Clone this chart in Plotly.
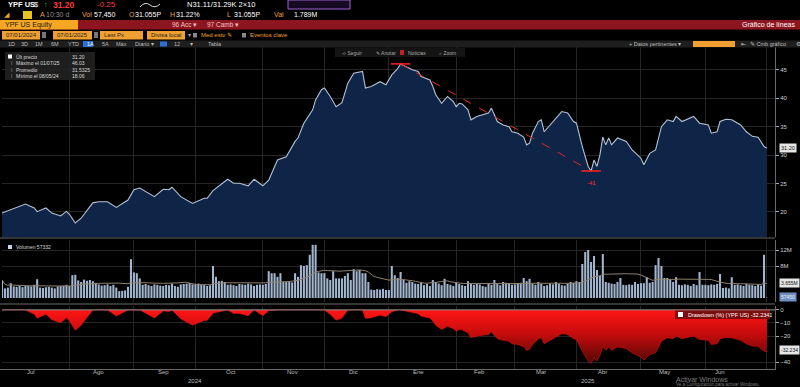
import plotly.graph_objects as go
import pandas as pd

W, H = 800, 387
def X(p): return p / W
def Y(p): return 1 - p / H

# ---------------- data ----------------
price_dates = [
    "2024-07-01","2024-07-04","2024-07-11","2024-07-16","2024-07-17","2024-07-22","2024-07-24",
    "2024-07-29","2024-07-31","2024-08-01","2024-08-05","2024-08-07","2024-08-13","2024-08-15",
    "2024-08-20","2024-08-23","2024-08-29","2024-09-02","2024-09-04","2024-09-11","2024-09-16",
    "2024-09-18","2024-09-19","2024-09-24","2024-09-30","2024-10-04","2024-10-07","2024-10-09",
    "2024-10-16","2024-10-18","2024-10-22","2024-10-25","2024-10-29","2024-11-01","2024-11-05",
    "2024-11-08","2024-11-13","2024-11-18","2024-11-19","2024-11-21","2024-11-26","2024-11-27",
    "2024-11-29","2024-12-02","2024-12-04","2024-12-06","2024-12-10","2024-12-12","2024-12-16",
    "2024-12-19","2024-12-20","2024-12-24","2024-12-27","2024-12-31","2025-01-02","2025-01-06",
    "2025-01-07","2025-01-13","2025-01-15","2025-01-16","2025-01-21","2025-01-22","2025-01-23",
    "2025-01-27","2025-01-29","2025-01-31","2025-02-03","2025-02-04","2025-02-05","2025-02-07",
    "2025-02-10","2025-02-12","2025-02-18","2025-02-19","2025-02-20","2025-02-21","2025-02-25",
    "2025-02-27","2025-02-28","2025-03-04","2025-03-06","2025-03-07","2025-03-10","2025-03-11",
    "2025-03-13","2025-03-14","2025-03-17","2025-03-19","2025-03-21","2025-03-25","2025-03-27",
    "2025-03-31","2025-04-01","2025-04-03","2025-04-07","2025-04-08","2025-04-09","2025-04-10",
    "2025-04-11","2025-04-14","2025-04-15","2025-04-16","2025-04-17","2025-04-21","2025-04-24",
    "2025-04-28","2025-05-01","2025-05-02","2025-05-06","2025-05-08","2025-05-12","2025-05-14",
    "2025-05-16","2025-05-19","2025-05-21","2025-05-27","2025-05-29","2025-06-03","2025-06-04",
    "2025-06-06","2025-06-09","2025-06-11","2025-06-13","2025-06-17","2025-06-18","2025-06-20",
    "2025-06-24","2025-06-26","2025-06-30","2025-07-01",
]
price_vals = [
    19.8, 20.35, 21.4, 20.7, 20.05, 20.7, 19.8,
    19.3, 20.1, 19.6, 18.06, 18.9, 21.6, 21.8,
    21.8, 20.8, 22.1, 23.9, 24.2, 22.7, 24.0,
    23.9, 24.35, 22.7, 21.5, 22.4, 22.4, 23.75,
    25.75, 25.05, 25.05, 24.6, 25.75, 24.6, 25.6,
    29.15, 29.7, 32.4, 33.0, 35.6, 37.95, 39.7,
    41.5, 41.8, 40.3, 38.5, 39.2, 42.65, 44.4,
    44.7, 41.8, 42.05, 42.9, 42.35, 44.1, 45.2,
    46.03, 45.0, 44.7, 43.8, 43.2, 42.05, 40.6,
    39.1, 40.3, 39.4, 38.5, 39.1, 39.0, 37.95,
    36.2, 36.8, 37.4, 38.25, 37.1, 35.9, 35.3,
    35.0, 34.1, 33.85, 33.15, 31.8, 32.1, 33.85,
    35.9, 36.2, 34.1, 35.3, 36.5, 37.65, 37.4,
    35.9, 35.6, 31.5, 28.0, 27.2, 29.15, 28.0,
    30.0, 33.15, 31.8, 33.0, 31.8, 33.0, 32.4,
    30.9, 29.45, 28.3, 30.3, 30.9, 35.0, 36.2,
    35.9, 36.8, 35.9, 36.8, 35.6, 35.3, 33.85,
    34.1, 35.9, 36.3, 36.2, 35.6, 35.3, 34.1,
    33.3, 33.15, 31.5, 31.2,
]

# daily volume in millions of shares (one value per weekday, Jul 1 2024 .. Jul 1 2025)
vol_jul24 = [4.5, 2.4, 2.6, 3.7, 2.9, 2.8, 3.0, 2.7, 3.1, 3.0, 2.9, 3.3, 4.7, 2.6, 2.5, 2.7, 2.8, 2.6, 2.4, 2.9, 3.0, 3.1, 3.3]
vol_aug24 = [3.0, 5.7, 5.8, 4.4, 4.0, 4.6, 4.3, 4.5, 4.2, 3.8, 3.4, 3.1, 3.2, 3.4, 3.0, 3.3, 2.6, 1.7, 1.8, 1.9, 2.8, 9.7]
vol_sep24 = [6.4, 6.2, 4.9, 3.3, 3.5, 3.2, 3.0, 3.4, 3.3, 3.1, 3.0, 3.3, 3.2, 3.6, 3.0, 2.8, 3.4, 3.5, 3.6, 3.8, 3.4]
vol_oct24 = [3.5, 3.6, 3.4, 3.3, 3.0, 3.2, 8.0, 5.3, 4.2, 4.3, 4.0, 3.3, 3.4, 3.2, 3.0, 3.5, 3.4, 3.3, 3.6, 3.4, 3.0, 3.3, 3.4]
vol_nov24 = [3.3, 3.5, 6.7, 6.2, 6.2, 5.3, 6.2, 4.0, 4.0, 4.1, 3.9, 6.2, 5.3, 8.2, 8.0, 8.2, 10.8, 13.3, 13.3, 6.4, 6.2]
vol_dec24 = [6.2, 4.9, 4.5, 6.7, 4.9, 4.9, 4.9, 5.5, 6.2, 4.5, 7.2, 6.7, 7.0, 6.2, 6.2, 4.0, 2.1, 2.0, 2.2, 2.1, 2.3, 2.0]
vol_jan25 = [2.0, 8.0, 5.7, 5.0, 6.5, 4.5, 3.8, 4.2, 4.0, 3.6, 3.5, 3.8, 3.2, 3.5, 3.0, 4.5, 4.0, 3.6, 3.2, 4.8, 3.5, 3.3, 3.0]
vol_feb25 = [3.8, 3.5, 3.2, 3.0, 4.2, 3.6, 3.3, 3.5, 3.4, 3.0, 2.8, 3.6, 3.3, 4.5, 3.5, 3.2, 4.0, 3.8, 3.5, 3.3]
vol_mar25 = [3.4, 3.6, 3.8, 5.0, 4.2, 4.8, 3.6, 3.3, 4.0, 3.5, 3.0, 3.2, 3.6, 3.4, 4.0, 3.5, 3.2, 3.1, 3.6, 4.0, 3.8]
vol_apr25 = [4.2, 4.0, 8.5, 11.5, 12.0, 9.0, 10.5, 7.0, 5.5, 11.0, 4.0, 3.8, 3.6, 3.5, 4.0, 5.0, 3.3, 3.2, 3.4, 3.3, 4.0, 3.5]
vol_may25 = [3.7, 3.7, 5.2, 3.8, 4.0, 8.2, 10.0, 8.0, 5.0, 5.0, 4.5, 4.0, 5.2, 3.3, 3.2, 3.4, 3.3, 3.0, 3.5, 3.2, 6.5, 3.3]
vol_jun25 = [3.3, 3.2, 3.4, 3.3, 3.5, 6.0, 2.5, 2.6, 2.4, 5.2, 3.3, 3.4, 3.2, 3.0, 3.5, 3.3, 3.2, 3.0, 3.4, 3.1, 10.8]
vol_jul25 = [0.057]

month_starts = ["2024-07-01","2024-08-01","2024-09-02","2024-10-01","2024-11-01","2024-12-02",
                "2025-01-01","2025-02-03","2025-03-03","2025-04-01","2025-05-01","2025-06-02","2025-07-01"]
month_labels = ["Jul","Ago","Sep","Oct","Nov","Dic","Ene","Feb","Mar","Abr","May","Jun"]
month_label_dates = ["2024-07-15","2024-08-15","2024-09-16","2024-10-17","2024-11-15","2024-12-16",
                     "2025-01-15","2025-02-13","2025-03-14","2025-04-14","2025-05-13","2025-06-09"]
year_labels = ["2024", "2025"]
year_label_dates = ["2024-10-01", "2025-04-07"]

price_ticks = [20, 25, 30, 35, 40, 45]
vol_ticks = [8, 12]
vol_tick_text = ["8M", "12M"]
dd_ticks = [0, -10, -20, -40]

# ---------------- derived ----------------
ps = pd.Series(price_vals, index=pd.to_datetime(price_dates))
dd = (ps / ps.cummax() - 1) * 100
peak_date = ps.idxmax()
trough_date = ps[peak_date:].idxmin()
dd_label = round((ps[trough_date] / ps[peak_date] - 1) * 100)

vol_values = (vol_jul24 + vol_aug24 + vol_sep24 + vol_oct24 + vol_nov24 + vol_dec24 +
              vol_jan25 + vol_feb25 + vol_mar25 + vol_apr25 + vol_may25 + vol_jun25 + vol_jul25)
vol_dates = pd.bdate_range("2024-07-01", "2025-07-01")
vol = pd.Series(vol_values, index=vol_dates)
vol_ma = vol.rolling(20, min_periods=1).mean()

# ---------------- figure ----------------
FONT = "Liberation Sans, Arial, sans-serif"
ORANGE = "#f0a030"
GRID = "#262626"
fig = go.Figure()

fig.add_trace(go.Scatter(x=ps.index, y=ps.values, mode="lines",
                         line=dict(color="#b3c2d6", width=1.1),
                         fill="tozeroy", fillcolor="#0e2548",
                         xaxis="x", yaxis="y", hoverinfo="skip"))
fig.add_trace(go.Scatter(x=[peak_date, trough_date], y=[ps[peak_date], ps[trough_date]],
                         mode="lines+markers",
                         line=dict(color="#e02828", width=1, dash="dash"),
                         marker=dict(symbol="line-ew", size=14, line=dict(color="#ff2020", width=1.5)),
                         xaxis="x", yaxis="y", hoverinfo="skip"))
fig.add_trace(go.Bar(x=vol.index, y=vol.values, marker=dict(color="#a3b6cf", line=dict(width=0)),
                     xaxis="x2", yaxis="y2", hoverinfo="skip"))
fig.add_trace(go.Scatter(x=vol_ma.index, y=vol_ma.values, mode="lines",
                         line=dict(color="#8f826f", width=1), xaxis="x2", yaxis="y2", hoverinfo="skip"))
fig.add_trace(go.Scatter(x=dd.index, y=dd.values, mode="lines",
                         line=dict(color="#e01010", width=0.6),
                         fill="tozeroy",
                         fillgradient=dict(type="vertical", start=-42, stop=0,
                                           colorscale=[[0, "#4a0606"], [0.55, "#c40c0c"], [1, "#ff1515"]]),
                         xaxis="x3", yaxis="y3", hoverinfo="skip"))

xdom = [X(2), X(775)]
xr = ["2024-07-01", "2025-07-03 18:00"]
rb = [dict(bounds=["sat", "mon"])]
common_x = dict(domain=xdom, range=xr, rangebreaks=rb, tickmode="array", tickvals=month_starts,
                showticklabels=False, showgrid=True, gridcolor=GRID, gridwidth=1,
                zeroline=False, showline=False, ticks="")
common_y = dict(side="right", ticks="outside", ticklen=3, tickcolor="#aaaaaa",
                tickfont=dict(size=6, color="#cfcfcf", family=FONT),
                showgrid=True, gridcolor=GRID, zeroline=False,
                showline=True, linecolor="#6a6a6a", linewidth=1, tickmode="array")

fig.update_layout(
    width=W, height=H, margin=dict(l=0, r=0, t=0, b=0),
    paper_bgcolor="black", plot_bgcolor="black", showlegend=False,
    bargap=0.3,
    font=dict(family=FONT, color="#cccccc"),
    xaxis=dict(anchor="y", **common_x),
    xaxis2=dict(anchor="y2", matches="x", **common_x),
    xaxis3=dict(anchor="y3", matches="x", **common_x),
    yaxis=dict(anchor="x", domain=[Y(237), Y(47)], range=[15.6, 49.0], tickvals=price_ticks, **common_y),
    yaxis2=dict(anchor="x2", domain=[Y(302), Y(240)], range=[-1.0, 14.5],
                tickvals=vol_ticks, ticktext=vol_tick_text, **common_y),
    yaxis3=dict(anchor="x3", domain=[Y(370), Y(306)], range=[-46, 3], tickvals=dd_ticks, **common_y),
)

shapes = []
anns = []
def rect(x0, y0, x1, y1, fill, line=None, lw=0):
    shapes.append(dict(type="rect", xref="paper", yref="paper", x0=X(x0), x1=X(x1), y0=Y(y1), y1=Y(y0),
                       fillcolor=fill, line=dict(color=line or fill, width=lw), layer="above"))
def hline(y, x0, x1, color, w=1):
    shapes.append(dict(type="line", xref="paper", yref="paper", x0=X(x0), x1=X(x1), y0=Y(y), y1=Y(y),
                       line=dict(color=color, width=w), layer="above"))
def txt(s, x, y, color="#cccccc", size=7, anchor="left", bold=False, bg=None):
    d = dict(text=("<b>%s</b>" % s) if bold else s, x=X(x), y=Y(y), xref="paper", yref="paper",
             xanchor=anchor, yanchor="middle", showarrow=False,
             font=dict(size=size, color=color, family=FONT))
    if bg:
        d.update(bgcolor=bg, borderpad=1)
    anns.append(d)

# --- header row 1
txt("YPF US", 6, 5, "#ffffff", 7.5, bold=True)
txt("$", 32, 5, "#ffffff", 7.5)
txt("↑", 42, 5, "#2fd04a", 7.5, bold=True)
txt("31.20", 51, 5, "#ff3a3a", 8.5, bold=True)
txt("-0.25", 95, 5, "#ff3a3a", 8)
shapes.append(dict(type="path", xref="paper", yref="paper",
                   path="M %f %f Q %f %f %f %f T %f %f" % (X(140), Y(7), X(145), Y(1), X(150), Y(5), X(160), Y(4)),
                   line=dict(color="#dddddd", width=1), layer="above"))
txt("N31.11/31.29K 2×10", 185, 5, "#ffffff", 7.5)
rect(288, 0, 350, 9, "#160a22", "#9b63d0", 1)

# --- header row 2
txt("◢", 2, 15, ORANGE, 7)
rect(23, 11, 32, 19, "#e8c21e")
txt("A", 38, 15, ORANGE, 7)
txt("10:30 d", 44, 15, "#8f8f8f", 7)
txt("Vol", 80, 15, ORANGE, 7)
txt("57,450", 92, 15, "#ffffff", 7)
txt("O", 127, 15, ORANGE, 7)
txt("31.055P", 133, 15, "#ffffff", 7)
txt("H", 168, 15, ORANGE, 7)
txt("31.22%", 174, 15, "#ffffff", 7)
txt("L", 225, 15, ORANGE, 7)
txt("31.055P", 232, 15, "#ffffff", 7)
txt("Val", 272, 15, ORANGE, 7)
txt("1.789M", 292, 15, "#ffffff", 7)

# --- header row 3
rect(0, 20, 800, 29.5, "#8c1520")
rect(0, 20, 78, 29.5, "#f5a623")
txt("YPF US Equity", 3, 25, "#1a1a1a", 7)
txt("96 Acc ▾", 170, 25, "#f2c4c4", 6.5)
txt("97 Camb ▾", 205, 25, "#f2c4c4", 6.5)
txt("Gráfico de líneas", 797, 25, "#ffffff", 7, anchor="right")

# --- header row 4
for (a, b, s) in [(2, 40, "07/01/2024"), (53, 92, "07/01/2025"), (100, 143, "Last Px"), (147, 185, "Divisa local")]:
    rect(a, 31, b, 39.5, ORANGE)
    txt(s, a + 2, 35.3, "#1f1f1f", 6)
rect(42, 32, 46, 38, "#777777")
rect(94, 32, 98, 38, "#777777")
txt("▾", 186, 35.3, "#aaaaaa", 6)
rect(193, 33, 197, 37.5, "#888888")
txt("Med estv ✎", 199, 35.3, ORANGE, 6)
rect(242, 33, 246, 37.5, "#888888")
txt("Eventos clave", 248, 35.3, ORANGE, 6)

# --- header row 5
rect(0, 40.5, 800, 47.5, "#1e1e1e")
rect(83, 41, 93, 47, "#2b6fd8")
rect(160, 41.5, 167, 46.5, "#2b6fd8")
for s, x in [("1D", 6), ("3D", 19), ("1M", 33), ("6M", 49), ("YTD", 66), ("1A", 84.5), ("5A", 100),
             ("Máx", 114), ("Diario ▾", 133), ("12", 172), ("▾", 188), ("Tabla", 206)]:
    txt(s, x, 44, "#ffffff" if s == "1A" else "#bdbdbd", 5.5)
txt("+ Datos pertinentes ▾", 627, 44, "#bdbdbd", 5.5)
rect(693, 41, 735, 47, ORANGE)
txt("⇤", 739, 44, "#bdbdbd", 6)
txt("✎ Cmb gráfico", 748, 44, "#bdbdbd", 5.5)
txt("⚙", 794, 44, "#bdbdbd", 6)

# --- chart toolbar
rect(335, 48, 465, 57, "#141414")
txt("⊹ Seguir", 340, 52.5, "#a8a8a8", 5)
txt("✎ Anotar", 374, 52.5, "#a8a8a8", 5)
rect(400, 50, 404, 55, "#c02020")
txt("Noticias", 406, 52.5, "#a8a8a8", 5)
txt("⌕ Zoom", 437, 52.5, "#a8a8a8", 5)

# --- main legend box
rect(5, 52, 95, 80, "rgba(34,34,34,0.88)")
rect(8, 54.5, 12, 58.5, "#ffffff")
rows = [("Últ precio", "31.20"), ("Máximo el 01/07/25", "46.03"),
        ("Promedio", "31.5325"), ("Mínimo el 08/05/24", "18.06")]
for i, (lab, val) in enumerate(rows):
    yy = 56.7 + i * 6.5
    if i > 0:
        txt("ǀ", 9, yy, "#999999", 5)
    txt(lab, 14, yy, "#d8d8d8", 5)
    txt(val, 70, yy, "#d8d8d8", 5)

# peak-to-trough label
anns.append(dict(text="%d" % dd_label, x=trough_date, y=ps[trough_date], xref="x", yref="y",
                 yshift=-12, showarrow=False, font=dict(size=6, color="#ff3030", family=FONT)))

# --- right-axis value labels
txt("31.20", 779, 148, "#111111", 5.5, bg="#e6e6e6")
txt("3.655M", 779, 283, "#111111", 5, bg="#e6e6e6")
txt("57450", 779, 297, "#e8eefa", 5, bg="#6f8fc2")
txt("-32.234", 779, 350, "#111111", 5, bg="#e6e6e6")

# --- volume legend
rect(8, 245, 12, 249, "#c8d6ea")
txt("Volumen 57332", 14, 247, "#d8d8d8", 5)

# --- drawdown legend
rect(675, 309, 770, 319, "#7c0d0d")
rect(678, 312, 683, 317, "#ffffff")
txt("Drawdown (%) (YPF US) -32.2341", 686, 314.5, "#ffffff", 5.5)

# --- separators
hline(238, 0, 775, "#6a6a6a", 1)
hline(304, 0, 775, "#6a6a6a", 1)
hline(369.5, 0, 775, "#6a6a6a", 1)
shapes.append(dict(type="line", xref="paper", yref="y3", x0=X(2), x1=X(775), y0=0, y1=0,
                   line=dict(color="#8a8a8a", width=1), layer="above"))

# --- date labels
for s, d in zip(month_labels, month_label_dates):
    anns.append(dict(text=s, x=d, y=Y(372), xref="x3", yref="paper", showarrow=False,
                     yanchor="middle", font=dict(size=6, color="#bdbdbd", family=FONT)))
for s, d in zip(year_labels, year_label_dates):
    anns.append(dict(text=s, x=d, y=Y(381), xref="x3", yref="paper", showarrow=False,
                     yanchor="middle", font=dict(size=6, color="#bdbdbd", family=FONT)))

# --- OS watermark
txt("Activar Windows", 674, 379.5, "#7d7d7d", 7)
txt("Ve a Configuración para activar Windows.", 674, 384.8, "#7d7d7d", 4.5)

fig.update_layout(shapes=shapes, annotations=anns)
fig.write_html("out.html", config={"displayModeBar": False, "staticPlot": True},
               post_script="document.body.style.margin='0';document.body.style.padding='0';"
                           "document.body.style.background='black';document.body.style.overflow='hidden';")
